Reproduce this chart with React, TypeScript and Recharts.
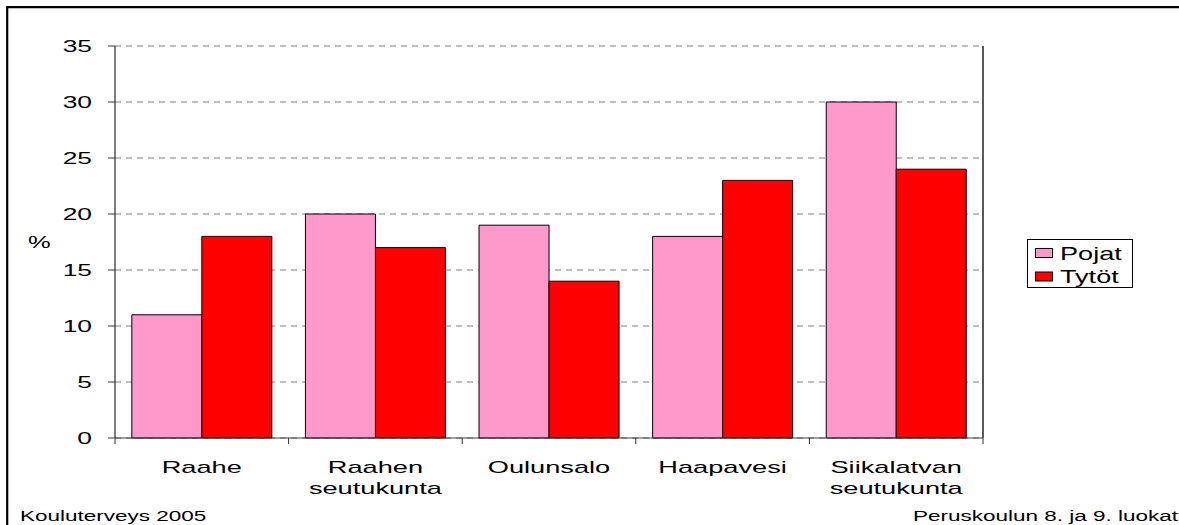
import React from "react";
import { BarChart, Bar, XAxis, YAxis, CartesianGrid, ReferenceLine } from "recharts";

const categories = ["Raahe", "Raahen\nseutukunta", "Oulunsalo", "Haapavesi", "Siikalatvan\nseutukunta"];
const pojat = [11, 20, 19, 18, 30];
const tytot = [18, 17, 14, 23, 24];
const seriesNames = ["Pojat", "Tytöt"];
const seriesColors = ["#FF99CC", "#FF0000"];
const yTicks = [0, 5, 10, 15, 20, 25, 30, 35];
const boundaryTicks = [0, 1, 2, 3, 4, 5];
const yLabel = "%";
const footerLeft = "Kouluterveys 2005";
const footerRight = "Peruskoulun 8. ja 9. luokat";

const FONT = "'Liberation Sans', Arial, sans-serif";
const SX = 1.6;

// pos = band centre on the helper number axis (used only for the boundary ticks)
const data = categories.map((c, i) => ({ name: c, pos: i + 0.5, pojat: pojat[i], tytot: tytot[i] }));

function CategoryTick(props: any) {
    const { x, y, payload } = props;
    const lines = String(payload.value).split("\n");
    return (
        <g transform={`translate(${x},${y})`}>
            {lines.map((l, i) => (
                <text
                    key={i}
                    transform={`translate(0,${31.5 + i * 21.5}) scale(${SX},1)`}
                    textAnchor="middle"
                    fontSize={17}
                    fontFamily={FONT}
                    fill="#000"
                >
                    {l}
                </text>
            ))}
        </g>
    );
}

function ValueTick(props: any) {
    const { x, y, payload } = props;
    return (
        <text
            transform={`translate(${x},${y + 5.8}) scale(${SX},1)`}
            textAnchor="end"
            fontSize={16.5}
            fontFamily={FONT}
            fill="#000"
        >
            {payload.value}
        </text>
    );
}

const EmptyTick = () => <g />;

export default function App() {
    return (
        <div style={{ position: "absolute", left: 0, top: 0, width: 1179, height: 525, background: "#fff" }}>
            <BarChart
                width={1179}
                height={525}
                data={data}
                margin={{ top: 46, right: 196, bottom: 0, left: 0 }}
                barCategoryGap="9.7%"
                barGap={0}
            >
                <CartesianGrid xAxisId="cat" vertical={false} stroke="#808080" strokeDasharray="6 5" />
                <XAxis
                    xAxisId="b"
                    dataKey="pos"
                    type="number"
                    domain={[0, 5]}
                    ticks={boundaryTicks}
                    allowDataOverflow
                    height={1}
                    axisLine={{ stroke: "#404040" }}
                    tick={EmptyTick}
                    tickLine={{ stroke: "#303030", strokeWidth: 1 }}
                    tickSize={6}
                />
                <XAxis
                    xAxisId="cat"
                    dataKey="name"
                    height={86}
                    tickSize={0}
                    tickLine={false}
                    axisLine={false}
                    tick={<CategoryTick />}
                    interval={0}
                />
                <YAxis
                    width={115}
                    domain={[0, 35]}
                    ticks={yTicks}
                    tickSize={7}
                    tickMargin={16}
                    axisLine={{ stroke: "#000" }}
                    tickLine={{ stroke: "#404040" }}
                    tick={<ValueTick />}
                />
                <ReferenceLine xAxisId="b" x={5} stroke="#000" strokeWidth={1.3} />
                <Bar xAxisId="cat" dataKey="pojat" name={seriesNames[0]} fill={seriesColors[0]} stroke="#000" strokeWidth={1} isAnimationActive={false} />
                <Bar xAxisId="cat" dataKey="tytot" name={seriesNames[1]} fill={seriesColors[1]} stroke="#000" strokeWidth={1} isAnimationActive={false} />
            </BarChart>
            <svg
                width={1179}
                height={525}
                style={{ position: "absolute", left: 0, top: 0, pointerEvents: "none" }}
            >
                <path d="M 7.2 525 L 7.2 7.2 L 1179 7.2" fill="none" stroke="#000" strokeWidth={2.2} />
                <text transform={`translate(28,248.3) scale(1.55,1)`} fontSize={16.5} fontFamily={FONT} fill="#000">
                    {yLabel}
                </text>
                <rect x={1027.5} y={239.5} width={105} height={48} fill="#fff" stroke="#000" strokeWidth={1} />
                {seriesNames.map((n, i) => (
                    <g key={n}>
                        <rect x={1035.5} y={248.5 + i * 23.5} width={17} height={9} fill={seriesColors[i]} stroke="#000" strokeWidth={1} />
                        <text
                            transform={`translate(1060,${259.5 + i * 23.5}) scale(1.55,1)`}
                            fontSize={17.5}
                            fontFamily={FONT}
                            fill="#000"
                        >
                            {n}
                        </text>
                    </g>
                ))}
                <text transform={`translate(20,520.5) scale(1.5,1)`} fontSize={15} fontFamily={FONT} fill="#000">
                    {footerLeft}
                </text>
                <text transform={`translate(913,520.5) scale(1.5,1)`} fontSize={15} fontFamily={FONT} fill="#000">
                    {footerRight}
                </text>
            </svg>
        </div>
    );
}
